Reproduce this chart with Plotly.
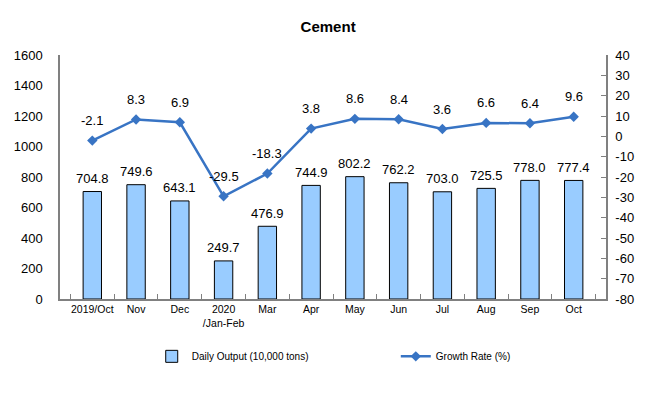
import plotly.graph_objects as go

categories = ["2019/Oct", "Nov", "Dec", "2020<br>/Jan-Feb", "Mar", "Apr", "May", "Jun", "Jul", "Aug", "Sep", "Oct"]
daily_output = [704.8, 749.6, 643.1, 249.7, 476.9, 744.9, 802.2, 762.2, 703.0, 725.5, 778.0, 777.4]
growth_rate = [-2.1, 8.3, 6.9, -29.5, -18.3, 3.8, 8.6, 8.4, 3.6, 6.6, 6.4, 9.6]
left_ticks = [0, 200, 400, 600, 800, 1000, 1200, 1400, 1600]
right_ticks = [-80, -70, -60, -50, -40, -30, -20, -10, 0, 10, 20, 30, 40]

BAR = "#99CCFF"
LINE = "#3874C4"
FONT = "Liberation Sans, Arial, sans-serif"
NARROW = "Liberation Sans Narrow, Arial Narrow, Arial, sans-serif"

fig = go.Figure()
fig.add_trace(go.Bar(
    x=categories, y=daily_output, name="Daily Output (10,000 tons)",
    marker=dict(color=BAR, line=dict(color="#000000", width=1)),
    width=0.42, yaxis="y", legend="legend",
))
fig.add_trace(go.Scatter(
    x=categories, y=growth_rate, name="Growth Rate (%)", mode="lines+markers",
    line=dict(color=LINE, width=2.5),
    marker=dict(symbol="diamond", size=8, color=LINE),
    yaxis="y2", legend="legend2",
))

annotations = []
for c, v in zip(categories, daily_output):
    annotations.append(dict(x=c, y=v, xref="x", yref="y", text=f"{v:.1f}",
                            showarrow=False, yshift=13,
                            font=dict(size=13, color="#000000", family=FONT)))
for c, v in zip(categories, growth_rate):
    annotations.append(dict(x=c, y=v, xref="x", yref="y2", text=f"{v:.1f}",
                            showarrow=False, yshift=20,
                            font=dict(size=13, color="#000000", family=FONT)))

legend_common = dict(orientation="h", yanchor="middle", y=-0.235, xanchor="left",
                     font=dict(size=10, family=NARROW), bgcolor="rgba(0,0,0,0)",
                     itemwidth=30)

fig.update_layout(
    width=652, height=388,
    margin=dict(l=52, r=54, t=47, b=97, autoexpand=False),
    paper_bgcolor="white", plot_bgcolor="white",
    title=dict(text="<b>Cement</b>", x=0.491, xanchor="center", y=0.951, yanchor="middle",
               font=dict(size=15, color="#000000", family=FONT)),
    font=dict(family=FONT, color="#000000"),
    showlegend=True,
    legend=dict(**legend_common, x=0.168),
    legend2=dict(**legend_common, x=0.615),
    xaxis=dict(
        showline=True, linecolor="#808080", linewidth=1.5,
        ticks="inside", ticklen=5, tickcolor="#808080", tickson="boundaries",
        tickangle=0, automargin=False,
        tickfont=dict(size=10.5, family=NARROW),
        showgrid=False, zeroline=False,
    ),
    yaxis=dict(
        range=[0, 1600], tickvals=left_ticks, showline=True, linecolor="#808080", linewidth=1.5,
        ticks="", showgrid=False, zeroline=False, tickfont=dict(size=13), ticklabelstandoff=13,
        automargin=False,
    ),
    yaxis2=dict(
        range=[-80, 40], tickvals=right_ticks, ticktext=[str(v) for v in right_ticks],
        overlaying="y", side="right",
        showline=True, linecolor="#808080", linewidth=1.5,
        ticks="inside", ticklen=5, tickcolor="#808080", ticklabelstandoff=5,
        showgrid=False, zeroline=False, tickfont=dict(size=13), automargin=False,
    ),
    annotations=annotations,
)

fig.write_html("out.html")
